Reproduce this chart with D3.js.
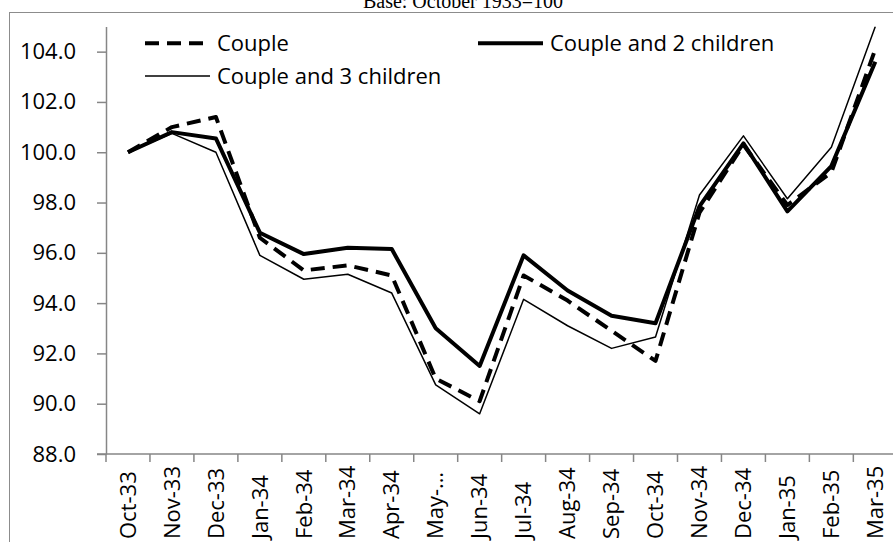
<!DOCTYPE html>
<html>
<head>
<meta charset="utf-8">
<script src="https://cdn.jsdelivr.net/npm/d3@7"></script>
<style>
  body { margin: 0; background: #fff; }
  svg { display: block; }
</style>
</head>
<body>
<div id="chart"></div>
<script>
// categories as shown on the axis (May label is cut short in the original)
const months = ["Oct-33", "Nov-33", "Dec-33", "Jan-34", "Feb-34", "Mar-34", "Apr-34", "May-…",
  "Jun-34", "Jul-34", "Aug-34", "Sep-34", "Oct-34", "Nov-34", "Dec-34", "Jan-35", "Feb-35", "Mar-35"];

const couple = [100.0, 101.0, 101.4, 96.6, 95.3, 95.5, 95.1, 91.0, 90.1, 95.1, 94.1, 92.9, 91.7,
  97.6, 100.3, 97.9, 99.2, 104.1];
const couple2 = [100.0, 100.8, 100.55, 96.8, 95.95, 96.2, 96.15, 93.0, 91.5, 95.9, 94.5, 93.5, 93.2,
  97.85, 100.35, 97.65, 99.45, 103.6];
const couple3 = [100.0, 100.75, 100.0, 95.9, 94.95, 95.15, 94.4, 90.75, 89.6, 94.15, 93.1, 92.2, 92.65,
  98.3, 100.65, 98.15, 100.2, 105.0];

const yTicks = [88, 90, 92, 94, 96, 98, 100, 102, 104];

const seriesNames = ["Couple", "Couple and 2 children", "Couple and 3 children"];

function draw() {
  const width = 893, height = 542;
  const font = "'Open Sans', sans-serif";

  const svg = d3.select("#chart")
    .append("svg")
    .attr("width", width)
    .attr("height", height);

  // chart frame (runs past the right and bottom edges in the original)
  svg.append("rect")
    .attr("x", 9.5).attr("y", 12.5)
    .attr("width", 920).attr("height", 620)
    .attr("fill", "none")
    .attr("stroke", "#8c8c8c")
    .attr("stroke-width", 1);

  // title, mostly cut off at the top
  svg.append("text")
    .attr("x", 463).attr("y", 8)
    .attr("text-anchor", "middle")
    .attr("font-family", "'Liberation Serif', serif")
    .attr("font-size", 20)
    .text("Base: October 1933=100");

  const plot = {left: 106, right: 897.3, top: 26.5, bottom: 454};

  const x = d3.scaleBand()
    .domain(months)
    .range([plot.left, plot.right]);

  const y = d3.scaleLinear()
    .domain([88, 105])
    .range([plot.bottom, plot.top]);

  const axisColor = "#868686";

  // y axis
  const yAxis = svg.append("g")
    .attr("transform", `translate(${plot.left},0)`)
    .call(d3.axisLeft(y)
      .tickValues(yTicks)
      .tickFormat(d3.format(".1f"))
      .tickSize(9)
      .tickSizeOuter(0)
      .tickPadding(21));
  yAxis.select(".domain").attr("stroke", axisColor).attr("stroke-width", 1.5);
  yAxis.selectAll(".tick line").attr("stroke", axisColor).attr("stroke-width", 1.5);
  yAxis.selectAll(".tick text")
    .attr("font-family", font)
    .attr("font-size", 22)
    .attr("fill", "#000");

  // x axis: line, ticks between categories, rotated labels
  const xAxis = svg.append("g");
  xAxis.append("line")
    .attr("x1", plot.left - 9).attr("x2", plot.right)
    .attr("y1", plot.bottom).attr("y2", plot.bottom)
    .attr("stroke", axisColor).attr("stroke-width", 1.5);

  const bounds = months.map(m => x(m)).concat([plot.right]);
  xAxis.selectAll(".xtick")
    .data(bounds)
    .join("line")
    .attr("class", "xtick")
    .attr("x1", d => d).attr("x2", d => d)
    .attr("y1", plot.bottom).attr("y2", plot.bottom + 8)
    .attr("stroke", axisColor).attr("stroke-width", 1.5);

  xAxis.selectAll(".xlabel")
    .data(months)
    .join("text")
    .attr("class", "xlabel")
    .attr("transform", d => `translate(${x(d) + x.bandwidth() / 2},539) rotate(-90)`)
    .attr("dy", "0.35em")
    .attr("text-anchor", "start")
    .attr("font-family", font)
    .attr("font-size", 22)
    .text(d => d);

  // lines, clipped to the plot area
  svg.append("clipPath")
    .attr("id", "plot-clip")
    .append("rect")
    .attr("x", plot.left).attr("y", plot.top)
    .attr("width", plot.right - plot.left)
    .attr("height", plot.bottom - plot.top);

  const line = d3.line()
    .x((d, i) => x(months[i]) + x.bandwidth() / 2)
    .y(d => y(d));

  const styles = [
    {data: couple, width: 4, dash: "14,8"},
    {data: couple2, width: 4, dash: null},
    {data: couple3, width: 1.5, dash: null}
  ];

  const lines = svg.append("g").attr("clip-path", "url(#plot-clip)");
  lines.selectAll("path")
    .data(styles)
    .join("path")
    .attr("d", d => line(d.data))
    .attr("fill", "none")
    .attr("stroke", "#000")
    .attr("stroke-width", d => d.width)
    .attr("stroke-dasharray", d => d.dash)
    .attr("stroke-linejoin", "round");

  // legend
  const legendPos = [
    {x: 145, y: 43.3},
    {x: 478, y: 43.3},
    {x: 145, y: 76}
  ];
  const legend = svg.append("g");
  const items = legend.selectAll("g")
    .data(styles)
    .join("g")
    .attr("transform", (d, i) => `translate(${legendPos[i].x},${legendPos[i].y})`);
  items.append("line")
    .attr("x1", 0).attr("x2", 65)
    .attr("stroke", "#000")
    .attr("stroke-width", d => d.width)
    .attr("stroke-dasharray", d => d.dash);
  items.append("text")
    .attr("x", 72)
    .attr("dy", "0.35em")
    .attr("font-family", font)
    .attr("font-size", 22)
    .text((d, i) => seriesNames[i]);
}

draw();
</script>
</body>
</html>
